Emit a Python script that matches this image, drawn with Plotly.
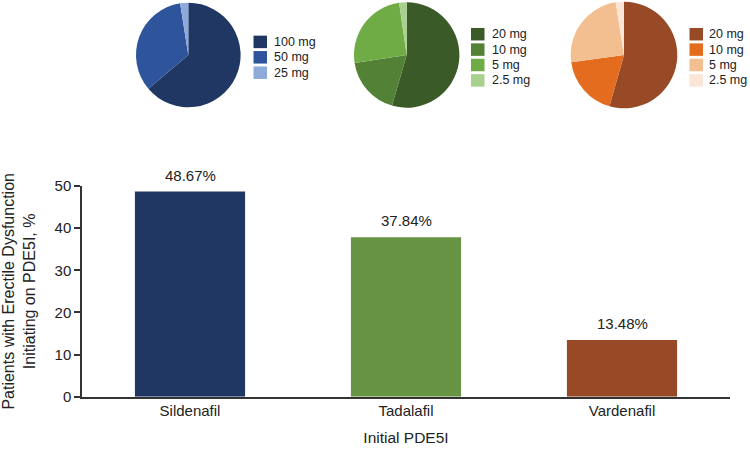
import plotly.graph_objects as go

W, H = 750, 449

# ---- data ----
drugs = ["Sildenafil", "Tadalafil", "Vardenafil"]
share_pct = [48.67, 37.84, 13.48]
bar_colors = ["#213763", "#679443", "#974a25"]

sil_doses = ["100 mg", "50 mg", "25 mg"]
sil_share = [63.8, 33.7, 2.5]
sil_colors = ["#213763", "#2e559b", "#8eaadb"]

tad_doses = ["20 mg", "10 mg", "5 mg", "2.5 mg"]
tad_share = [54.5, 18.1, 25.1, 2.3]
tad_colors = ["#3a5a28", "#538135", "#6fac46", "#a9d18e"]

var_doses = ["20 mg", "10 mg", "5 mg", "2.5 mg"]
var_share = [54.4, 18.4, 24.7, 2.5]
var_colors = ["#974a25", "#e36c1f", "#f4bf90", "#fbe5d6"]

y_ticks = [0, 10, 20, 30, 40, 50]

FONT = "Liberation Sans, Arial, sans-serif"
TXT = "#222222"


def px_x(x):
    return x / W


def px_y(y):
    return 1 - y / H


fig = go.Figure()

fig.add_trace(go.Bar(
    x=drugs, y=share_pct, marker=dict(color=bar_colors, line=dict(width=0)),
    width=0.51, showlegend=False, hoverinfo="x+y",
))

# pie layout: (labels, values, colors, centre x, centre y, radius, legend box left x, text left x)
pies = [
    (sil_doses, sil_share, sil_colors, 188.3, 55, 52.3, 253.5, 273.0),
    (tad_doses, tad_share, tad_colors, 406.7, 55, 52.7, 471.0, 491.0),
    (var_doses, var_share, var_colors, 624.0, 55, 53.3, 689.5, 708.0),
]

shapes = []
annotations = []
ROW = 15.4
BOX_W, BOX_H = 13.5, 12.5
LEG_CY = 57.3

for labels, vals, cols, cx, cy, r, bx, tx in pies:
    fig.add_trace(go.Pie(
        labels=labels, values=vals, sort=False, direction="clockwise",
        rotation=0, marker=dict(colors=cols, line=dict(width=0)),
        textinfo="none", hoverinfo="label+percent",
        domain=dict(x=[px_x(cx - r), px_x(cx + r)], y=[px_y(cy + r), px_y(cy - r)]),
        showlegend=False,
    ))
    n = len(labels)
    top = LEG_CY - (n - 1) * ROW / 2
    for i, (lab, col) in enumerate(zip(labels, cols)):
        yc = top + i * ROW
        shapes.append(dict(
            type="rect", xref="paper", yref="paper",
            x0=px_x(bx), x1=px_x(bx + BOX_W),
            y0=px_y(yc + BOX_H / 2), y1=px_y(yc - BOX_H / 2),
            fillcolor=col, line=dict(width=0), layer="above",
        ))
        annotations.append(dict(
            x=px_x(tx - 1), y=px_y(yc), xref="paper", yref="paper",
            text=lab, showarrow=False, xanchor="left", yanchor="middle",
            font=dict(family=FONT, size=12.5, color=TXT),
        ))

for d, v in zip(drugs, share_pct):
    annotations.append(dict(
        x=d, y=v, xref="x", yref="y", text=f"{v:.2f}%", showarrow=False,
        yanchor="bottom", yshift=6, font=dict(family=FONT, size=15, color=TXT),
    ))

fig.update_layout(
    width=W, height=H,
    margin=dict(l=0, r=0, t=0, b=0),
    paper_bgcolor="white", plot_bgcolor="white",
    font=dict(family=FONT, size=15, color=TXT),
    showlegend=False,
    xaxis=dict(
        domain=[px_x(82), px_x(730)], anchor="y",
        showline=True, linecolor="#333333", linewidth=1.5,
        ticks="", showgrid=False, zeroline=False,
        tickfont=dict(family=FONT, size=15, color=TXT),
        title=dict(text="Initial PDE5I", font=dict(family=FONT, size=15.5, color=TXT), standoff=14),
        automargin=False,
    ),
    yaxis=dict(
        domain=[px_y(396.7), px_y(186)], anchor="x",
        range=[0, 50], tickvals=y_ticks,
        showline=True, linecolor="#333333", linewidth=1.5,
        ticks="outside", ticklen=6, tickwidth=1.5, tickcolor="#333333",
        showgrid=False, zeroline=False,
        tickfont=dict(family=FONT, size=15, color=TXT),
        title=dict(text="Patients with Erectile Dysfunction<br>Initiating on PDE5I, %",
                   font=dict(family=FONT, size=16, color=TXT), standoff=16),
        automargin=False,
    ),
    shapes=shapes,
    annotations=annotations,
)

fig.write_html("out.html",
               config={"displayModeBar": False},
               post_script="document.body.style.margin='0px';document.body.style.overflow='hidden';")
